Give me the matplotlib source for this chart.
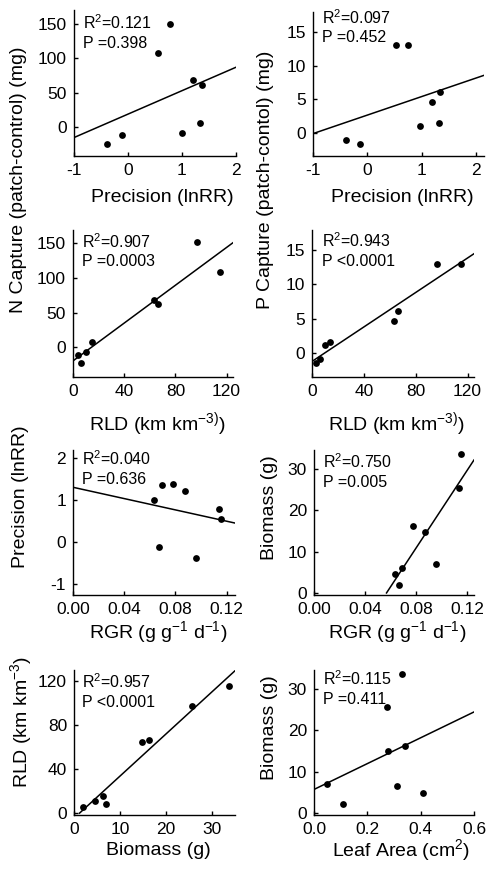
import matplotlib.pyplot as plt
import numpy as np
from matplotlib.ticker import FormatStrFormatter

plt.rcParams["font.family"] = ["Liberation Sans", "DejaVu Sans"]
plt.rcParams["mathtext.fontset"] = "custom"
plt.rcParams["mathtext.rm"] = "Liberation Sans"
plt.rcParams["mathtext.it"] = "Liberation Sans:italic"
plt.rcParams["mathtext.default"] = "regular"
plt.rcParams["axes.unicode_minus"] = False

W, H = 488, 871

# --- data (one pair of arrays per panel) ---
prec_a = [-0.39, -0.11, 0.56, 0.78, 1.00, 1.20, 1.37, 1.33]
ncap_a = [-25.2, -12.1, 107.4, 150.0, -8.7, 67.7, 60.5, 6.3]

prec_b = [-0.39, -0.13, 0.53, 0.75, 0.97, 1.18, 1.34, 1.32]
pcap_b = [-1.0, -1.6, 13.1, 13.1, 1.1, 4.6, 6.05, 1.5]

rld_c = [3.6, 6.5, 10.0, 14.5, 63.6, 66.5, 97.0, 115.0]
ncap_c = [-11.1, -23.2, -7.3, 7.3, 67.7, 61.9, 151.4, 108.8]

rld_d = [3.4, 6.0, 9.8, 14.2, 63.5, 66.0, 96.6, 114.8]
pcap_d = [-1.45, -0.87, 1.21, 1.6, 4.6, 6.05, 12.97, 12.97]

rgr_e = [0.0634, 0.0697, 0.0780, 0.0874, 0.1137, 0.1153, 0.0670, 0.0957]
prec_e = [1.00, 1.36, 1.38, 1.22, 0.78, 0.54, -0.12, -0.38]

rgr_f = [0.0637, 0.0663, 0.0694, 0.0778, 0.0870, 0.0954, 0.1140, 0.1153]
bio_f = [4.7, 2.0, 6.1, 16.1, 14.8, 6.9, 25.4, 33.7]

bio_g = [1.9, 4.6, 6.2, 7.0, 14.7, 16.2, 25.6, 33.8]
rld_g = [5.1, 11.1, 15.6, 8.1, 64.3, 66.7, 97.3, 115.3]

leaf_h = [0.0475, 0.1075, 0.275, 0.2775, 0.329, 0.310, 0.340, 0.409]
bio_h = [7.0, 2.2, 25.6, 14.9, 33.7, 6.5, 16.3, 4.8]

stats = [
    ("0.121", "=0.398"), ("0.097", "=0.452"),
    ("0.907", "=0.0003"), ("0.943", "<0.0001"),
    ("0.040", "=0.636"), ("0.750", "=0.005"),
    ("0.957", "<0.0001"), ("0.115", "=0.411"),
]

fig = plt.figure(figsize=(W / 100, H / 100), dpi=100)


def add_ax(l, t, r, b):
    return fig.add_axes([l / W, 1 - b / H, (r - l) / W, (b - t) / H])


def ftext(x, y, s, **kw):
    fig.text(x / W, 1 - y / H, s, fontsize=kw.pop("fontsize", 14), **kw)


# box (px: left, top, right, bottom), xlim, ylim, xticks, yticks, fmt, fit x-range, text pos
panels = [
    (prec_a, ncap_a, (74, 10, 236, 156), (-1, 2), (-42, 170), [-1, 0, 1, 2], [0, 50, 100, 150], None, (-1, 2), (83, 23)),
    (prec_b, pcap_b, (313, 12, 484, 156), (-1, 2.14), (-3.4, 18), [-1, 0, 1, 2], [0, 5, 10, 15], None, (-1, 2.14), (322, 18)),
    (rld_c, ncap_c, (73, 230, 233, 377), (0, 125), (-43, 169), [0, 40, 80, 120], [0, 50, 100, 150], None, (0, 125), (82, 242)),
    (rld_d, pcap_d, (312, 230, 474, 377), (0, 125), (-3.5, 17.9), [0, 40, 80, 120], [0, 5, 10, 15], None, (0, 125), (322, 241)),
    (rgr_e, prec_e, (73, 450, 235, 595), (0, 0.1265), (-1.26, 2.19), [0, 0.04, 0.08, 0.12], [-1, 0, 1, 2], "%.2f", (0, 0.1265), (82, 459)),
    (rgr_f, bio_f, (314, 450, 474, 595), (0, 0.1255), (-0.5, 34.6), [0, 0.04, 0.08, 0.12], [0, 10, 20, 30], "%.2f", None, (323, 462)),
    (bio_g, rld_g, (74, 670, 235, 815), (0, 35), (-1.8, 130), [0, 10, 20, 30], [0, 40, 80, 120], None, (1.2, 35), (82, 682)),
    (leaf_h, bio_h, (314, 670, 474, 815), (0, 0.6), (-0.5, 34.6), [0, 0.2, 0.4, 0.6], [0, 10, 20, 30], "%.1f", (0, 0.6), (323, 679)),
]

for (xs, ys, box, xl, yl, xt, yt, fmt, fr, tpos), (r2, pv) in zip(panels, stats):
    ax = add_ax(*box)
    ax.scatter(xs, ys, s=24, color="black", zorder=3, linewidths=0)
    k, c = np.polyfit(xs, ys, 1)
    if fr is None:
        fr = (-c / k, xl[1])
    lx = np.array(fr)
    ax.plot(lx, k * lx + c, color="black", linewidth=1.1)
    ax.set_xlim(*xl)
    ax.set_ylim(*yl)
    ax.set_xticks(xt)
    ax.set_yticks(yt)
    if fmt:
        ax.xaxis.set_major_formatter(FormatStrFormatter(fmt))
    for sp in ("top", "right"):
        ax.spines[sp].set_visible(False)
    for sp in ("left", "bottom"):
        ax.spines[sp].set_linewidth(1.0)
    ax.tick_params(direction="in", length=3, width=1.0, labelsize=12.5, pad=5)
    ax.patch.set_alpha(0)
    ftext(tpos[0], tpos[1], "R$^2$=" + r2, fontsize=11.5, va="center", ha="left")
    ftext(tpos[0], tpos[1] + 20, "P " + pv, fontsize=11.5, va="center", ha="left")

# y labels
ftext(19, 180, "N Capture (patch-control) (mg)", rotation=90, ha="center", va="center")
ftext(266, 180, "P Capture (patch-contol) (mg)", rotation=90, ha="center", va="center")
ftext(21, 497, "Precision (lnRR)", rotation=90, ha="center", va="center")
ftext(270, 508, "Biomass (g)", rotation=90, ha="center", va="center")
ftext(21, 722, "RLD (km km$^{-3}$)", rotation=90, ha="center", va="center")
ftext(270, 728, "Biomass (g)", rotation=90, ha="center", va="center")

# x labels
ftext(162, 198, "Precision (lnRR)", ha="center", va="center")
ftext(402, 198, "Precision (lnRR)", ha="center", va="center")
ftext(157, 424, "RLD (km km$^{-3)}$)", ha="center", va="center")
ftext(396, 424, "RLD (km km$^{-3)}$)", ha="center", va="center")
ftext(158, 632, "RGR (g g$^{-1}$ d$^{-1}$)", ha="center", va="center")
ftext(397, 632, "RGR (g g$^{-1}$ d$^{-1}$)", ha="center", va="center")
ftext(158, 850, "Biomass (g)", ha="center", va="center")
ftext(401, 850, "Leaf Area (cm$^2$)", ha="center", va="center")

fig.savefig("out.png", dpi=100, facecolor="white")
